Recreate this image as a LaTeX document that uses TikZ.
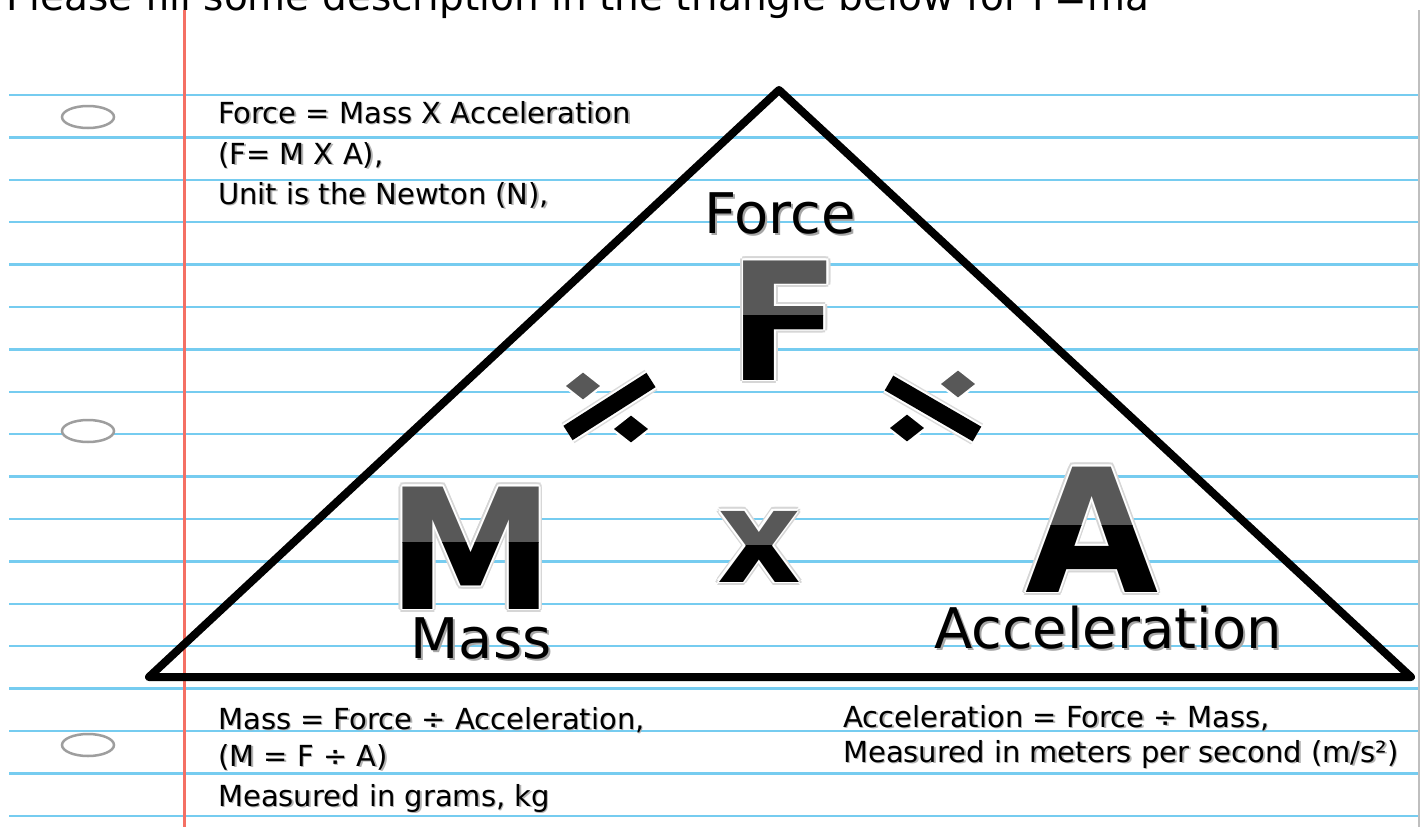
\documentclass[tikz,border=0pt]{standalone}
\usepackage{fontspec}
\setmainfont{DejaVu Sans}
\definecolor{rule}{RGB}{118,204,240}
\definecolor{margin}{RGB}{244,112,100}
\definecolor{halfgray}{RGB}{88,88,88}
% big two-tone letter: name, x, baseline y, split y, letter, size
\newcommand{\bigletter}[6]{%
  \foreach \a in {0,30,...,330}
    \node[bigl,text=black!16,font=\bfseries\fontsize{#6}{#6}\selectfont] at ([shift={(\a:3.5)}]#2,#3) {#5};
  \foreach \a in {0,45,...,315}
    \node[bigl,text=white,font=\bfseries\fontsize{#6}{#6}\selectfont] at ([shift={(\a:1.8)}]#2,#3) {#5};
  \begin{scope}
    \clip (#2-110,#4) rectangle (#2+110,#3-150);
    \node[bigl,text=halfgray,font=\bfseries\fontsize{#6}{#6}\selectfont] at (#2,#3) {#5};
  \end{scope}
  \begin{scope}
    \clip (#2-110,#4) rectangle (#2+110,#3+20);
    \node[bigl,font=\bfseries\fontsize{#6}{#6}\selectfont] (#1) at (#2,#3) {#5};
  \end{scope}}
\begin{document}
\begin{tikzpicture}[x=1pt,y=-1pt,
    bigl/.style={inner sep=0pt,anchor=base},
    word/.style={inner sep=0pt,anchor=base,font=\fontsize{56}{60}\selectfont},
    notetext/.style={inner sep=0pt,anchor=base west,font=\fontsize{29}{32}\selectfont}]
    \useasboundingbox (0,0) rectangle (1421,827);
    \clip (0,0) rectangle (1421,827);
    \fill[white] (0,0) rectangle (1421,827);
    % the paper
    \foreach \k in {0,...,17}
        \draw[rule,line width=2.3pt] (9,{95+42.4*\k}) -- (1418,{95+42.4*\k});
    \draw[margin,line width=3pt] (184,10) -- (184,827);
    \draw[black!25,line width=2pt] (1419,10) -- (1419,827);
    \foreach \y in {117,431,745}
        \draw[black!38,line width=2.5pt,fill=white] (88,\y) ellipse (26 and 11);
    \node[anchor=base west,inner sep=0pt,font=\fontsize{39}{40}\selectfont] (heading) at (6,10)
        {Please fill some description in the triangle below for F=ma};
    % the triangle
    \draw[line width=8pt,line join=round] (779,90) -- (1411,677) -- (149,677) -- cycle;
    % notes round it
    \foreach \n/\p/\t in {fline1/{218,123}/{Force = Mass X Acceleration},
                          fline2/{218,164}/{(F= M X A),},
                          fline3/{218,204}/{Unit is the Newton (N),},
                          mline1/{218,729}/{Mass = Force ÷ Acceleration,},
                          mline2/{218,766}/{(M = F ÷ A)},
                          mline3/{218,806}/{Measured in grams, kg},
                          aline1/{843,727}/{Acceleration = Force ÷ Mass,},
                          aline2/{843,762}/{Measured in meters per second (m/s²)}}
    {
        \node[notetext,text=black!30] at ([shift={(1.5,1.5)}]\p) {\t};
        \node[notetext] (\n) at (\p) {\t};
    }
    % words inside
    \node[word,text=black!35] at (782,235) {Force};
    \node[word] (force) at (780,233) {Force};
    \node[word,text=black!35] at (483,660) {Mass};
    \node[word] (mass) at (481,658) {Mass};
    \node[word,text=black!35] at (1110,650) {Acceleration};
    \node[word] (accel) at (1108,648) {Acceleration};
    % letters
    \bigletter{letF}{785}{380}{315}{F}{164}
    \bigletter{letM}{471}{609}{542}{M}{168}
    \bigletter{letA}{1092}{592}{525}{A}{172}
    \bigletter{letX}{759}{582}{545}{x}{130}
    % turned division signs
    \draw[black!14,line width=24pt] (568,433) -- (651,380);
    \draw[white,line width=21pt] (568,433) -- (651,380);
    \draw[line width=17pt] (568,433) -- (651,380);
    \foreach \p/\c in {{583,386}/halfgray,{631,429}/black}
        \filldraw[fill=\c,draw=white,line width=2.2pt] (\p) +(-19,0) -- +(0,-15) -- +(19,0) -- +(0,15) -- cycle;
    \draw[black!14,line width=24pt] (889,383) -- (977,434);
    \draw[white,line width=21pt] (889,383) -- (977,434);
    \draw[line width=17pt] (889,383) -- (977,434);
    \foreach \p/\c in {{958,384}/halfgray,{907,428}/black}
        \filldraw[fill=\c,draw=white,line width=2.2pt] (\p) +(-19,0) -- +(0,-15) -- +(19,0) -- +(0,15) -- cycle;
\end{tikzpicture}
\end{document}
